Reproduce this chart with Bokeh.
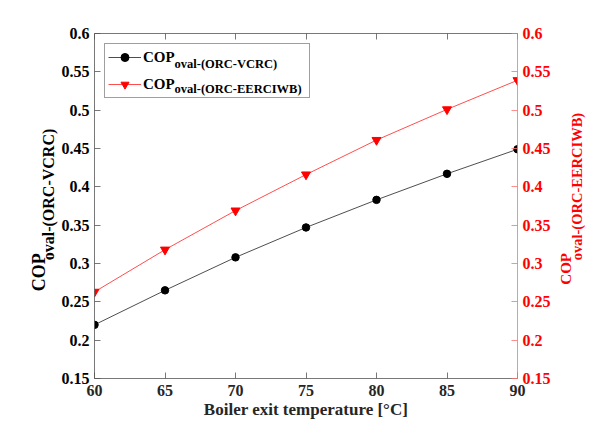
import math
from bokeh.plotting import figure
from bokeh.models import (Range1d, LinearAxis, FixedTicker, Legend, LegendItem, Label)
from bokeh.layouts import row
from bokeh.core.properties import value
from bokeh.embed import file_html
from bokeh.resources import INLINE

# ---- data ----
temperature = [60, 65, 70, 75, 80, 85, 90]
cop_vcrc = [0.220, 0.265, 0.308, 0.347, 0.383, 0.417, 0.449]
cop_eerciwb = [0.263, 0.318, 0.369, 0.416, 0.461, 0.501, 0.539]
x_ticks = [60, 65, 70, 75, 80, 85, 90]
y_ticks = [0.15, 0.2, 0.25, 0.3, 0.35, 0.4, 0.45, 0.5, 0.55, 0.6]
x_label = "Boiler exit temperature [°C]"
series_main = "COP"
sub_vcrc = "oval-(ORC-VCRC)"
sub_eerciwb = "oval-(ORC-EERCIWB)"

FONT = "Liberation Serif"
RED = "#ff0000"
DARK = "#262626"

H = 423
LEFT_W = 58
RIGHT_W = 45
MAIN_W = 601 - LEFT_W - RIGHT_W

p = figure(width=MAIN_W, height=H, output_backend="svg", toolbar_location=None,
           x_range=Range1d(60, 90), y_range=Range1d(0.15, 0.6),
           min_border_left=93 - LEFT_W, min_border_right=601 - 517 - RIGHT_W,
           min_border_top=33, min_border_bottom=45,
           x_axis_location=None, y_axis_location=None)
p.extra_y_ranges = {"right": Range1d(0.15, 0.6)}
p.xgrid.visible = False
p.ygrid.visible = False
p.outline_line_color = None
p.background_fill_color = "white"
p.border_fill_color = "white"


def style_axis(ax, color, line_color, label_size="16px"):
    ax.major_tick_in = 6
    ax.major_tick_out = 0
    ax.minor_tick_line_color = None
    ax.axis_line_color = line_color
    ax.axis_line_width = 0.8
    ax.major_tick_line_color = line_color
    ax.major_tick_line_width = 0.8
    ax.major_label_text_font = FONT
    ax.major_label_text_font_style = "bold"
    ax.major_label_text_font_size = label_size
    ax.major_label_text_color = color
    ax.major_label_standoff = 5


bottom = LinearAxis(ticker=FixedTicker(ticks=x_ticks))
style_axis(bottom, DARK, "#555555")
bottom.major_label_standoff = 6
bottom.axis_label = x_label
bottom.axis_label_text_font = FONT
bottom.axis_label_text_font_style = "bold"
bottom.axis_label_text_font_size = "17px"
bottom.axis_label_text_color = DARK
bottom.axis_label_standoff = 1
p.add_layout(bottom, "below")

# top axis: ticks only (no labels drawn)
top = LinearAxis(ticker=FixedTicker(ticks=x_ticks))
style_axis(top, DARK, "#555555", label_size="10px")
top.major_label_text_color = None
top.major_label_standoff = 0
p.add_layout(top, "above")

left = LinearAxis(ticker=FixedTicker(ticks=y_ticks))
style_axis(left, "black", "#555555")
p.add_layout(left, "left")

right = LinearAxis(y_range_name="right", ticker=FixedTicker(ticks=y_ticks))
style_axis(right, RED, "#ff7070")
p.add_layout(right, "right")

# ---- series ----
l1 = p.line(temperature, cop_vcrc, line_color="black", line_width=0.7)
s1 = p.scatter(temperature, cop_vcrc, marker="circle", size=7.5,
               fill_color="black", line_color="black")
l2 = p.line(temperature, cop_eerciwb, line_color=RED, line_width=0.7, y_range_name="right")
s2 = p.scatter(temperature, cop_eerciwb, marker="inverted_triangle", size=9,
               fill_color=RED, line_color=RED, y_range_name="right")

# legend subscripts (screen units from the frame's bottom-left), drawn before the legend
for txt, ysc in [(sub_vcrc, 308), (sub_eerciwb, 283)]:
    p.add_layout(Label(x=80, y=ysc, x_units="screen", y_units="screen", text=txt,
                       text_font=FONT, text_font_style="bold", text_font_size="12.5px",
                       text_color="black", text_align="left", text_baseline="bottom"))

legend = Legend(items=[LegendItem(label=series_main, renderers=[l1, s1]),
                       LegendItem(label=series_main, renderers=[l2, s2])],
                location="top_left", margin=10, padding=3, spacing=7,
                glyph_width=33, glyph_height=20, label_height=20, label_width=163,
                label_standoff=2,
                label_text_font=FONT, label_text_font_style="bold",
                label_text_font_size="15px", label_text_color="black",
                border_line_color="#404040", border_line_width=0.7,
                background_fill_alpha=0.0)
p.add_layout(legend)


def side_panel(width):
    f = figure(width=width, height=H, output_backend="svg", toolbar_location=None,
               x_range=Range1d(0, width), y_range=Range1d(0, H),
               min_border=0, x_axis_location=None, y_axis_location=None)
    f.xgrid.visible = False
    f.ygrid.visible = False
    f.outline_line_color = None
    f.background_fill_color = "white"
    f.border_fill_color = "white"
    return f


# left y-axis title: COP with subscript, rotated (panel pixels, y from bottom)
lf = side_panel(LEFT_W)
lf.text(x=[48.6], y=[H - 316], text=[series_main], angle=math.pi / 2,
        text_font=value(FONT), text_font_style="bold", text_font_size="18px",
        text_color="black", text_align="left", text_baseline="bottom")
lf.text(x=[56], y=[H - 278], text=[sub_vcrc], angle=math.pi / 2,
        text_font=value(FONT), text_font_style="bold", text_font_size="16px",
        text_color="black", text_align="left", text_baseline="bottom")

# right y-axis title
rf = side_panel(RIGHT_W)
rf.text(x=[17], y=[H - 308], text=[series_main], angle=math.pi / 2,
        text_font=value(FONT), text_font_style="bold", text_font_size="15px",
        text_color=RED, text_align="left", text_baseline="bottom")
rf.text(x=[28.5], y=[H - 278], text=[sub_eerciwb], angle=math.pi / 2,
        text_font=value(FONT), text_font_style="bold", text_font_size="14.5px",
        text_color=RED, text_align="left", text_baseline="bottom")

layout = row(lf, p, rf, spacing=0)
open("out.html", "w").write(file_html(layout, INLINE))
